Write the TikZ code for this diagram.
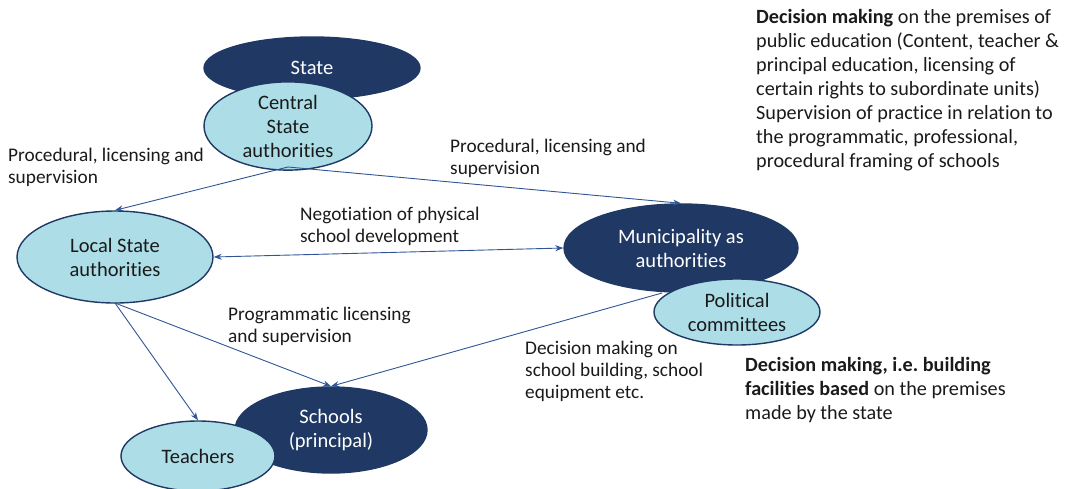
\documentclass[tikz,border=0pt]{standalone}
\usepackage{fontspec}
\setmainfont[Ligatures=NoCommon]{Carlito}
\usetikzlibrary{shapes.geometric,arrows.meta}
\frenchspacing
\definecolor{navy}{HTML}{1F3864}
\definecolor{light}{HTML}{ADDEE8}
\definecolor{arrowc}{HTML}{2F5597}
\definecolor{txt}{HTML}{1A1A1A}
\tikzset{
  dark/.style={ellipse, draw=navy, fill=navy, line width=1.4pt, inner sep=0pt, text=white, align=center, font=\fontsize{20.5}{24}\selectfont},
  lite/.style={ellipse, draw=navy, fill=light, line width=1.4pt, inner sep=0pt, text=txt, align=center, font=\fontsize{20.5}{24}\selectfont},
  lbl/.style={anchor=west, inner sep=0pt, align=left, text=txt, font=\fontsize{19.3}{22}\selectfont},
  side/.style={anchor=west, inner sep=0pt, align=left, text=txt, font=\fontsize{20.2}{24}\selectfont},
  conn/.style={draw=arrowc, line width=0.9pt, -{Stealth[length=8pt,width=6pt]}},
  conn2/.style={draw=arrowc, line width=0.9pt, {Stealth[length=8pt,width=6pt]}-{Stealth[length=8pt,width=6pt]}}
}
\begin{document}
\begin{tikzpicture}[x=1pt,y=-1pt]
\useasboundingbox (0,0) rectangle (1071,488);
% nodes
\node[dark, minimum width=216pt, minimum height=62pt] (state) at (312,68) {};
\node[text=white, font=\fontsize{20.5}{24}\selectfont, inner sep=0pt] (statetxt) at (312,68) {State};
\node[lite, minimum width=168pt, minimum height=82pt] (central) at (288,126) {Central\\State\\authorities};
\node[lite, minimum width=196pt, minimum height=92pt] (local) at (115,257) {Local State\\authorities};
\node[dark, minimum width=234pt, minimum height=88pt] (muni) at (681,248) {Municipality as\\authorities};
\node[lite, minimum width=166pt, minimum height=66pt] (pol) at (737,312) {Political\\committees};
\node[dark, minimum width=192pt, minimum height=86pt] (schools) at (331,430) {Schools\\(principal)};
\node[lite, minimum width=154pt, minimum height=70pt] (teachers) at (198,456) {Teachers};
% connectors
\coordinate (cb) at (288,167);
\coordinate (lb) at (115,303);
\coordinate (pl) at (662,293);
\draw[conn] (cb) -- (local.north);
\draw[conn] (cb) -- (muni.north);
\draw[conn2] (local.east) -- (muni.west);
\draw[conn] (lb) -- (teachers.north);
\draw[conn] (lb) -- (schools.north);
\draw[conn] (pl) -- (schools.north);
% labels
\node[lbl] (l1) at (8,167) {Procedural, licensing and\\supervision};
\node[lbl] (l2) at (450,158) {Procedural, licensing and\\supervision};
\node[lbl] (l3) at (300,226) {Negotiation of physical\\school development};
\node[lbl] (l4) at (228,326) {Programmatic licensing\\and supervision};
\node[lbl] (l5) at (525,371) {Decision making on\\school building, school\\equipment etc.};
\node[side] (r1) at (756,90) {\textbf{Decision making} on the premises of\\public education (Content, teacher \&\\principal education, licensing of\\certain rights to subordinate units)\\Supervision of practice in relation to\\the programmatic, professional,\\procedural framing of schools};
\node[side] (r2) at (745,390) {\textbf{Decision making, i.e. building}\\\textbf{facilities based} on the premises\\made by the state};
\end{tikzpicture}
\end{document}
